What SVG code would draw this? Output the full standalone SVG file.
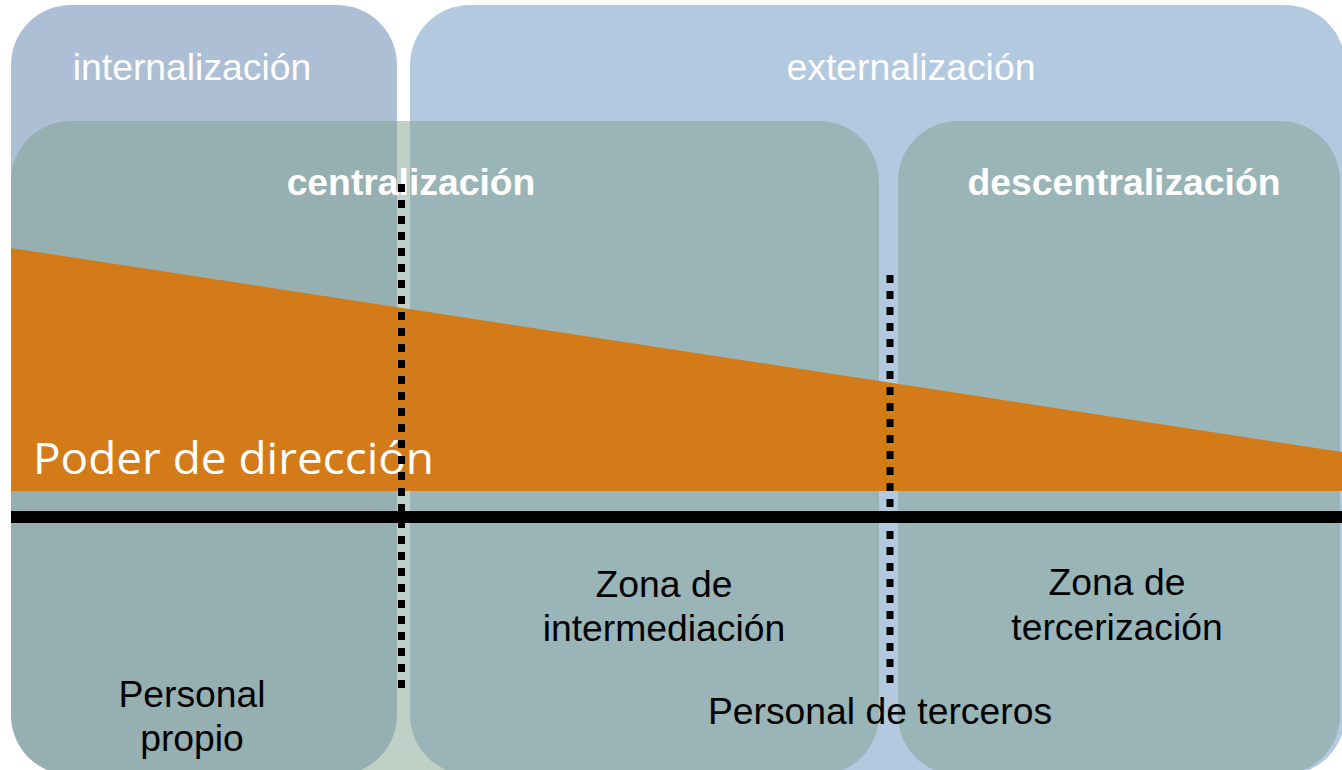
<svg xmlns="http://www.w3.org/2000/svg" width="1342" height="770" viewBox="0 0 1342 770">
<style>
.title{font-family:"Liberation Sans",Arial,sans-serif;font-size:37.3px;fill:#ffffff;text-anchor:middle}
.bold{font-weight:bold}
.lbl{font-family:"Liberation Sans",Arial,sans-serif;font-size:37.3px;fill:#000000;text-anchor:middle}
.teal{fill:#7fa190;fill-opacity:0.5}
.dots{stroke:#000000;stroke-width:7;stroke-dasharray:8 8;fill:none}
</style>
<rect width="1342" height="770" fill="#ffffff"/>
<g id="internalizacion">
<rect x="11" y="5" width="386" height="770" rx="60" ry="60" fill="#adbfd5"/>
<text class="title" x="192" y="80">internalización</text>
</g>
<g id="externalizacion">
<rect x="410" y="5" width="935" height="770" rx="60" ry="60" fill="#b2c9df"/>
<text class="title" x="911" y="80">externalización</text>
</g>
<g id="centralizacion">
<rect class="teal" x="11" y="121" width="868" height="654" rx="60" ry="60"/>
</g>
<g id="descentralizacion">
<rect class="teal" x="898" y="121" width="442" height="654" rx="60" ry="60"/>
</g>
<g id="poder">
<polygon points="11,248 1342,452 1342,491 11,491" fill="#d47b19"/>
<text x="33" y="474" font-family="'Open Sans','Noto Sans',sans-serif" font-size="43" fill="#ffffff" textLength="401" lengthAdjust="spacingAndGlyphs">Poder de dirección</text>
</g>
<g id="eje">
<line x1="11" y1="517" x2="1342" y2="517" stroke="#000000" stroke-width="12"/>
</g>
<g id="titulos">
<text class="title bold" x="411" y="195">centralización</text>
<text class="title bold" x="1124" y="195">descentralización</text>
</g>
<g id="personal-propio">
<text class="lbl" x="192" y="707">Personal</text>
<text class="lbl" x="192" y="751">propio</text>
</g>
<g id="zona-intermediacion">
<text class="lbl" x="664" y="597">Zona de</text>
<text class="lbl" x="664" y="641">intermediación</text>
</g>
<g id="zona-tercerizacion">
<text class="lbl" x="1117" y="595">Zona de</text>
<text class="lbl" x="1117" y="640">tercerización</text>
</g>
<g id="personal-terceros">
<text class="lbl" x="880" y="724">Personal de terceros</text>
</g>
<g id="connectors">
<line class="dots" x1="401.5" y1="184" x2="401.5" y2="690"/>
<line class="dots" x1="890" y1="275" x2="890" y2="685"/>
</g>
</svg>
